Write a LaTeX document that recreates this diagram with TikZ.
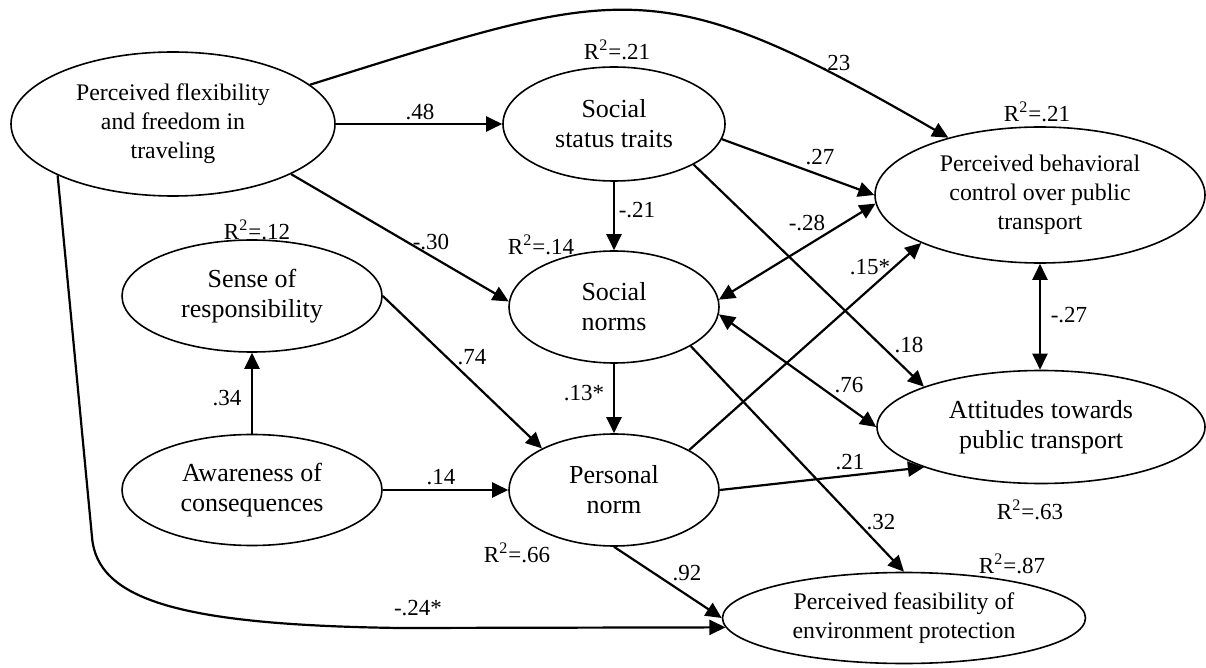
\documentclass[tikz,border=0pt]{standalone}
\usepackage{fontspec}
\setmainfont{Liberation Serif}
\usetikzlibrary{arrows.meta,shapes.geometric}
\newcommand{\bigfont}{\fontsize{13pt}{15pt}\selectfont}
\newcommand{\smallfont}{\fontsize{11.9pt}{14.5pt}\selectfont}
\newcommand{\coeffont}{\fontsize{11.5pt}{13pt}\selectfont}

\begin{document}
\begin{tikzpicture}[x=0.5pt, y=-0.5pt,
    latent/.style={draw, ellipse, line width=0.8pt, inner sep=0pt, align=center, font=\bigfont},
    widelatent/.style={latent, font=\smallfont},
    coef/.style={inner sep=0pt, font=\coeffont},
    effect/.style={line width=1.1pt, -{Triangle[length=8pt,width=7.5pt]}},
    corr/.style={line width=1.1pt, {Triangle[length=8pt,width=7.5pt]}-{Triangle[length=8pt,width=7.5pt]}}]
  \useasboundingbox (0,0) rectangle (1206,668);
  % constructs
  \node[widelatent, minimum width=162pt, minimum height=72pt] (flex) at (173,124) {Perceived flexibility\\and freedom in\\traveling};
  \node[latent, minimum width=111pt, minimum height=57pt] (status) at (614,124) {Social\\status traits};
  \node[widelatent, minimum width=165pt, minimum height=68pt] (pbc) at (1040,195) {Perceived behavioral\\control over public\\transport};
  \node[latent, minimum width=130pt, minimum height=56pt] (resp) at (252,296) {Sense of\\responsibility};
  \node[latent, minimum width=105pt, minimum height=56pt] (snorm) at (614,307) {Social\\norms};
  \node[latent, minimum width=164pt, minimum height=56.5pt] (att) at (1041,427) {Attitudes towards\\public transport};
  \node[latent, minimum width=130pt, minimum height=55.5pt] (aware) at (252,490) {Awareness of\\consequences};
  \node[latent, minimum width=105pt, minimum height=56pt] (pnorm) at (614,490) {Personal\\norm};
  \node[widelatent, minimum width=181.5pt, minimum height=45.5pt] (feas) at (904,618) {Perceived feasibility of\\environment protection};
  % explained variance
  \node[coef] (r2status) at (617,50) {R\textsuperscript{2}=.21};
  \node[coef] (r2pbc) at (1037,112) {R\textsuperscript{2}=.21};
  \node[coef] (r2resp) at (257,230) {R\textsuperscript{2}=.12};
  \node[coef] (r2snorm) at (541,245) {R\textsuperscript{2}=.14};
  \node[coef] (r2pnorm) at (517,553) {R\textsuperscript{2}=.66};
  \node[coef] (r2att) at (1030,510) {R\textsuperscript{2}=.63};
  \node[coef] (r2feas) at (1012,564) {R\textsuperscript{2}=.87};
  % paths from flexibility
  \draw[effect] (flex.east) -- (status.west);
  \draw[effect] (flex.16) .. controls (623,-13) and (655,-32) .. (pbc.148);
  \draw[effect] (flex.-23) -- (snorm.177);
  \draw[effect] (flex.204) -- (92,537) .. controls (97,600) and (180,625) .. (400,628) -- (feas.183);
  \node[coef] (b48) at (420,112) {.48};
  \node[coef] (b23) at (836,63) {.23};
  \node[coef] (b30) at (431,242) {-.30};
  \node[coef] (b24) at (418,608) {-.24*};
  % paths from status traits
  \draw[effect] (status.south) -- (snorm.north);
  \draw[effect] (status.-8) -- (pbc.west);
  \draw[effect] (status.-27) -- (att.161);
  \node[coef] (b21a) at (637,210) {-.21};
  \node[coef] (b27a) at (820,157) {.27};
  \node[coef] (b18) at (909,345) {.18};
  % social norms
  \draw[corr] (snorm.4) -- (pbc.183);
  \draw[corr] (snorm.-4) -- (att.west);
  \draw[effect] (snorm.south) -- (pnorm.north);
  \draw[effect] (snorm.-27) -- (feas.north);
  \node[coef] (b28) at (807,223) {-.28};
  \node[coef] (b76) at (849,385) {.76};
  \node[coef] (b13) at (584,393) {.13*};
  \node[coef] (b32) at (881,522) {.32};
  % norm activation
  \draw[effect] (aware.north) -- (resp.south);
  \draw[effect] (aware.east) -- (pnorm.west);
  \draw[effect] (resp.east) -- (pnorm.150);
  \node[coef] (b34) at (227,398) {.34};
  \node[coef] (b14) at (441,477) {.14};
  \node[coef] (b74) at (472,357) {.74};
  % paths from personal norm
  \draw[effect] (pnorm.28) -- (pbc.202);
  \draw[effect] (pnorm.east) -- (att.199);
  \draw[effect] (pnorm.south) -- (feas.west);
  \node[coef] (b15) at (870,267) {.15*};
  \node[coef] (b21b) at (850,462) {.21};
  \node[coef] (b92) at (687,573) {.92};
  % pbc with attitudes
  \draw[corr] (pbc.south) -- (pbc.south |- att.north);
  \node[coef] (b27b) at (1069,315) {-.27};
\end{tikzpicture}
\end{document}
